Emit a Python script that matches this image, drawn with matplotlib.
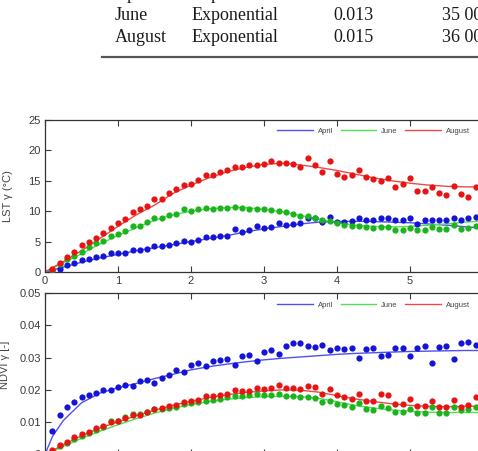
import numpy as np
import matplotlib
matplotlib.use("Agg")
import matplotlib.pyplot as plt
from matplotlib.lines import Line2D

# ---------------- data ----------------
lags = [round(0.1 * i, 1) for i in range(1, 60)]  # 0.1 .. 5.9 km

lst_april = [0.3, 0.55, 1.1, 1.5, 1.9, 2.2, 2.5, 2.6, 3.2, 3.1, 3.2, 3.7, 3.7, 3.8, 4.2, 4.2, 4.4, 4.7, 5.1, 4.9,
             5.3, 5.8, 5.8, 5.9, 6.0, 7.0, 6.6, 6.9, 7.6, 7.3, 7.4, 8.1, 7.7, 7.9, 8.0, 8.9, 8.9, 8.2, 9.0, 8.2,
             8.2, 8.4, 8.9, 8.5, 8.5, 8.9, 8.9, 8.5, 8.5, 8.8, 7.9, 8.5, 8.6, 8.5, 8.5, 8.8, 8.6, 8.8, 9.0]
lst_june = [0.4, 1.3, 2.1, 2.6, 3.3, 4.1, 4.7, 5.1, 5.9, 6.2, 6.8, 7.5, 7.6, 8.2, 8.9, 8.9, 9.3, 9.5, 10.3, 10.1,
            10.3, 10.6, 10.4, 10.5, 10.6, 10.7, 10.6, 10.4, 10.4, 10.3, 10.2, 10.1, 9.8, 9.6, 9.2, 9.2, 8.9, 8.5, 8.4, 8.0,
            7.8, 7.5, 7.6, 7.4, 7.3, 7.4, 7.4, 6.9, 6.9, 7.3, 6.9, 6.9, 7.4, 7.1, 7.0, 7.7, 7.0, 7.2, 7.5]
lst_august = [0.55, 1.5, 2.5, 3.3, 4.5, 5.0, 5.6, 6.4, 7.2, 8.0, 8.7, 9.9, 10.3, 10.9, 12.0, 12.0, 13.0, 13.6, 14.3, 14.5,
              15.1, 15.9, 16.0, 16.5, 16.8, 17.2, 17.3, 17.6, 17.6, 17.8, 18.3, 18.0, 18.0, 17.8, 17.2, 18.7, 17.6, 16.5, 18.3, 16.2,
              15.7, 16.0, 16.7, 15.7, 15.3, 15.0, 15.5, 13.9, 14.5, 15.5, 13.3, 13.3, 13.9, 13.0, 12.7, 14.1, 12.8, 12.3, 13.9]

ndvi_april = [0.0072, 0.0121, 0.0146, 0.0162, 0.0177, 0.0185, 0.0191, 0.0199, 0.0199, 0.0208, 0.0216, 0.0213, 0.0228, 0.0232,
              0.0221, 0.0237, 0.0247, 0.0261, 0.0255, 0.0277, 0.0284, 0.0273, 0.0289, 0.0294, 0.0295, 0.0277, 0.0306, 0.0309,
              0.0289, 0.0318, 0.0325, 0.0310, 0.0336, 0.0344, 0.0344, 0.0336, 0.0334, 0.0338, 0.0325, 0.0331, 0.0327, 0.0331,
              0.0300, 0.0327, 0.0331, 0.0305, 0.0308, 0.0331, 0.0331, 0.0305, 0.0331, 0.0336, 0.0282, 0.0334, 0.0336, 0.0296,
              0.0346, 0.0348, 0.0339]
ndvi_june = [0.0010, 0.0025, 0.0036, 0.0048, 0.0058, 0.0067, 0.0077, 0.0085, 0.0103, 0.0105, 0.0115, 0.0126, 0.0124, 0.0131,
             0.0140, 0.0140, 0.0145, 0.0148, 0.0155, 0.0158, 0.0162, 0.0165, 0.0168, 0.0172, 0.0178, 0.0180, 0.0182, 0.0184,
             0.0187, 0.0185, 0.0185, 0.0187, 0.0182, 0.0182, 0.0178, 0.0178, 0.0176, 0.0162, 0.0165, 0.0157, 0.0153, 0.0147,
             0.0159, 0.0141, 0.0138, 0.0149, 0.0143, 0.0133, 0.0133, 0.0140, 0.0128, 0.0128, 0.0147, 0.0127, 0.0127, 0.0147,
             0.0137, 0.0140, 0.0147]
ndvi_august = [0.0014, 0.0029, 0.0040, 0.0053, 0.0063, 0.0071, 0.0081, 0.0087, 0.0100, 0.0103, 0.0112, 0.0121, 0.0121, 0.0131,
               0.0141, 0.0143, 0.0149, 0.0152, 0.0162, 0.0165, 0.0169, 0.0180, 0.0180, 0.0183, 0.0188, 0.0199, 0.0196, 0.0196,
               0.0206, 0.0204, 0.0206, 0.0214, 0.0206, 0.0206, 0.0204, 0.0211, 0.0209, 0.0188, 0.0202, 0.0183, 0.0178, 0.0173,
               0.0187, 0.0167, 0.0165, 0.0186, 0.0183, 0.0157, 0.0155, 0.0173, 0.0151, 0.0149, 0.0167, 0.0147, 0.0147, 0.0169,
               0.0147, 0.0152, 0.0178]

# fitted model curves
fit_lags = [0, 0.1, 0.25, 0.5, 0.75, 1.0, 1.25, 1.5, 1.75, 2.0, 2.25, 2.5, 2.75, 3.0, 3.25, 3.5, 3.75,
            4.0, 4.25, 4.5, 4.75, 5.0, 5.25, 5.5, 5.75, 6.0]
lst_fit_april = [0, 0.3, 0.8, 1.6, 2.3, 2.9, 3.5, 4.0, 4.5, 5.0, 5.5, 6.0, 6.6, 7.1, 7.5, 7.9, 8.2,
                 8.3, 8.35, 8.3, 8.2, 8.1, 7.9, 7.7, 7.45, 7.2]
lst_fit_june = [0, 0.6, 1.5, 3.0, 4.6, 6.0, 7.3, 8.5, 9.4, 10.0, 10.4, 10.6, 10.6, 10.3, 9.9, 9.3, 8.7,
                8.1, 7.7, 7.5, 7.4, 7.5, 7.7, 7.9, 8.2, 8.4]
lst_fit_august = [0, 0.7, 1.7, 3.5, 5.5, 7.5, 9.4, 11.0, 12.9, 14.3, 15.5, 16.5, 17.2, 17.7, 17.9, 17.6, 17.2,
                  16.7, 16.1, 15.5, 15.0, 14.6, 14.3, 14.1, 14.0, 14.0]
ndvi_fit_april = [0, 0.0055, 0.0105, 0.0160, 0.0190, 0.0207, 0.0220, 0.0235, 0.0248, 0.0262, 0.0272, 0.0280, 0.0287,
                  0.0293, 0.0298, 0.0302, 0.0306, 0.0310, 0.0313, 0.0315, 0.0317, 0.0319, 0.0320, 0.0321, 0.0322, 0.0322]
ndvi_fit_june = [0, 0.0009, 0.0025, 0.0050, 0.0072, 0.0092, 0.0111, 0.0128, 0.0143, 0.0155, 0.0164, 0.0171, 0.0176,
                 0.0179, 0.0180, 0.0179, 0.0174, 0.0163, 0.0152, 0.0144, 0.0138, 0.0134, 0.0131, 0.0130, 0.0130, 0.0130]
ndvi_fit_august = [0, 0.0012, 0.0030, 0.0058, 0.0082, 0.0101, 0.0120, 0.0137, 0.0152, 0.0165, 0.0176, 0.0185, 0.0192,
                   0.0197, 0.0200, 0.0199, 0.0193, 0.0182, 0.0172, 0.0164, 0.0157, 0.0152, 0.0149, 0.0148, 0.0149, 0.0150]

months = ["April", "June", "August"]
table_rows = [["April", "Exponential", "", ""],
              ["June", "Exponential", "0.013", "35 000"],
              ["August", "Exponential", "0.015", "36 000"]]

# ---------------- style ----------------
W, H = 478, 451
fig = plt.figure(figsize=(W / 100, H / 100), dpi=100)

dot_colors = ["#1414d8", "#1cb41c", "#e81414"]
line_colors = ["#5050f0", "#50e050", "#f04848"]
tick_color = "#3a3a3a"

# ---------------- table fragment ----------------
col_x = [115, 192, 333, 442]
row_y = [-6, 16, 38]
for r, row in enumerate(table_rows):
    for c, txt in enumerate(row):
        fig.text(col_x[c] / W, 1 - row_y[r] / H, txt, family="Liberation Serif",
                 fontsize=13, va="center", ha="left", color="#1a1a1a")
fig.add_artist(Line2D([102 / W, 1.0], [1 - 57 / H, 1 - 57 / H], color="#555555", lw=1.6))


def make_axes(top_px, bottom_px):
    left = 45 / W
    return fig.add_axes([left, 1 - bottom_px / H, 1 - left, (bottom_px - top_px) / H])


def style(ax, show_xlabels=True):
    ax.tick_params(direction="in", top=True, right=False, length=4, width=0.8,
                   colors=tick_color, labelsize=8, pad=3, labelbottom=show_xlabels)
    for s in ["left", "bottom", "top"]:
        ax.spines[s].set_color("#333333")
        ax.spines[s].set_linewidth(0.9)
    ax.spines["right"].set_visible(False)
    for lab in ax.get_xticklabels() + ax.get_yticklabels():
        lab.set_family("Liberation Sans")


def legend(ax, y_px):
    handles = [Line2D([], [], color=c, lw=1.0) for c in line_colors]
    leg = ax.legend(handles, months, loc="center left", bbox_to_anchor=(277 / W, 1 - y_px / H),
                    bbox_transform=fig.transFigure, ncol=3, frameon=False, fontsize=5.5,
                    handlelength=4.7, handletextpad=0.6, columnspacing=1.0, borderpad=0,
                    borderaxespad=0)
    for t in leg.get_texts():
        t.set_color("#444444")
        t.set_family("Liberation Sans")


# ---------------- top: LST ----------------
ax1 = make_axes(120, 272)
for vals, fit, dc, lc in zip([lst_april, lst_june, lst_august],
                             [lst_fit_april, lst_fit_june, lst_fit_august],
                             dot_colors, line_colors):
    ax1.plot(fit_lags, fit, color=lc, lw=1.0, zorder=2)
    ax1.plot(lags, vals, "o", color=dc, ms=4.5, mec="none", zorder=3)
ax1.set_xlim(0, (W - 45) / 73)
ax1.set_ylim(0, 25)
ax1.set_xticks([0, 1, 2, 3, 4, 5])
ax1.set_yticks([0, 5, 10, 15, 20, 25])
style(ax1)
ax1.set_ylabel("LST γ (°C)", fontsize=8, color="#444444", family="Liberation Sans")
ax1.yaxis.set_label_coords(-0.074, 0.5)
legend(ax1, 131)

# ---------------- bottom: NDVI ----------------
ax2 = make_axes(293, 454.5)
for vals, fit, dc, lc in zip([ndvi_april, ndvi_june, ndvi_august],
                             [ndvi_fit_april, ndvi_fit_june, ndvi_fit_august],
                             dot_colors, line_colors):
    ax2.plot(fit_lags, fit, color=lc, lw=1.0, zorder=2)
    ax2.plot(lags, vals, "o", color=dc, ms=4.5, mec="none", zorder=3)
ax2.set_xlim(0, (W - 45) / 73)
ax2.set_ylim(0, 0.05)
ax2.set_xticks([0, 1, 2, 3, 4, 5])
ax2.set_yticks([0, 0.01, 0.02, 0.03, 0.04, 0.05])
ax2.set_yticklabels(["0", "0.01", "0.02", "0.03", "0.04", "0.05"])
style(ax2, show_xlabels=False)
ax2.set_ylabel("NDVI γ [-]", fontsize=8, color="#444444", family="Liberation Sans")
ax2.yaxis.set_label_coords(-0.081, 0.554)
legend(ax2, 305)

fig.savefig("out.png", dpi=100)
